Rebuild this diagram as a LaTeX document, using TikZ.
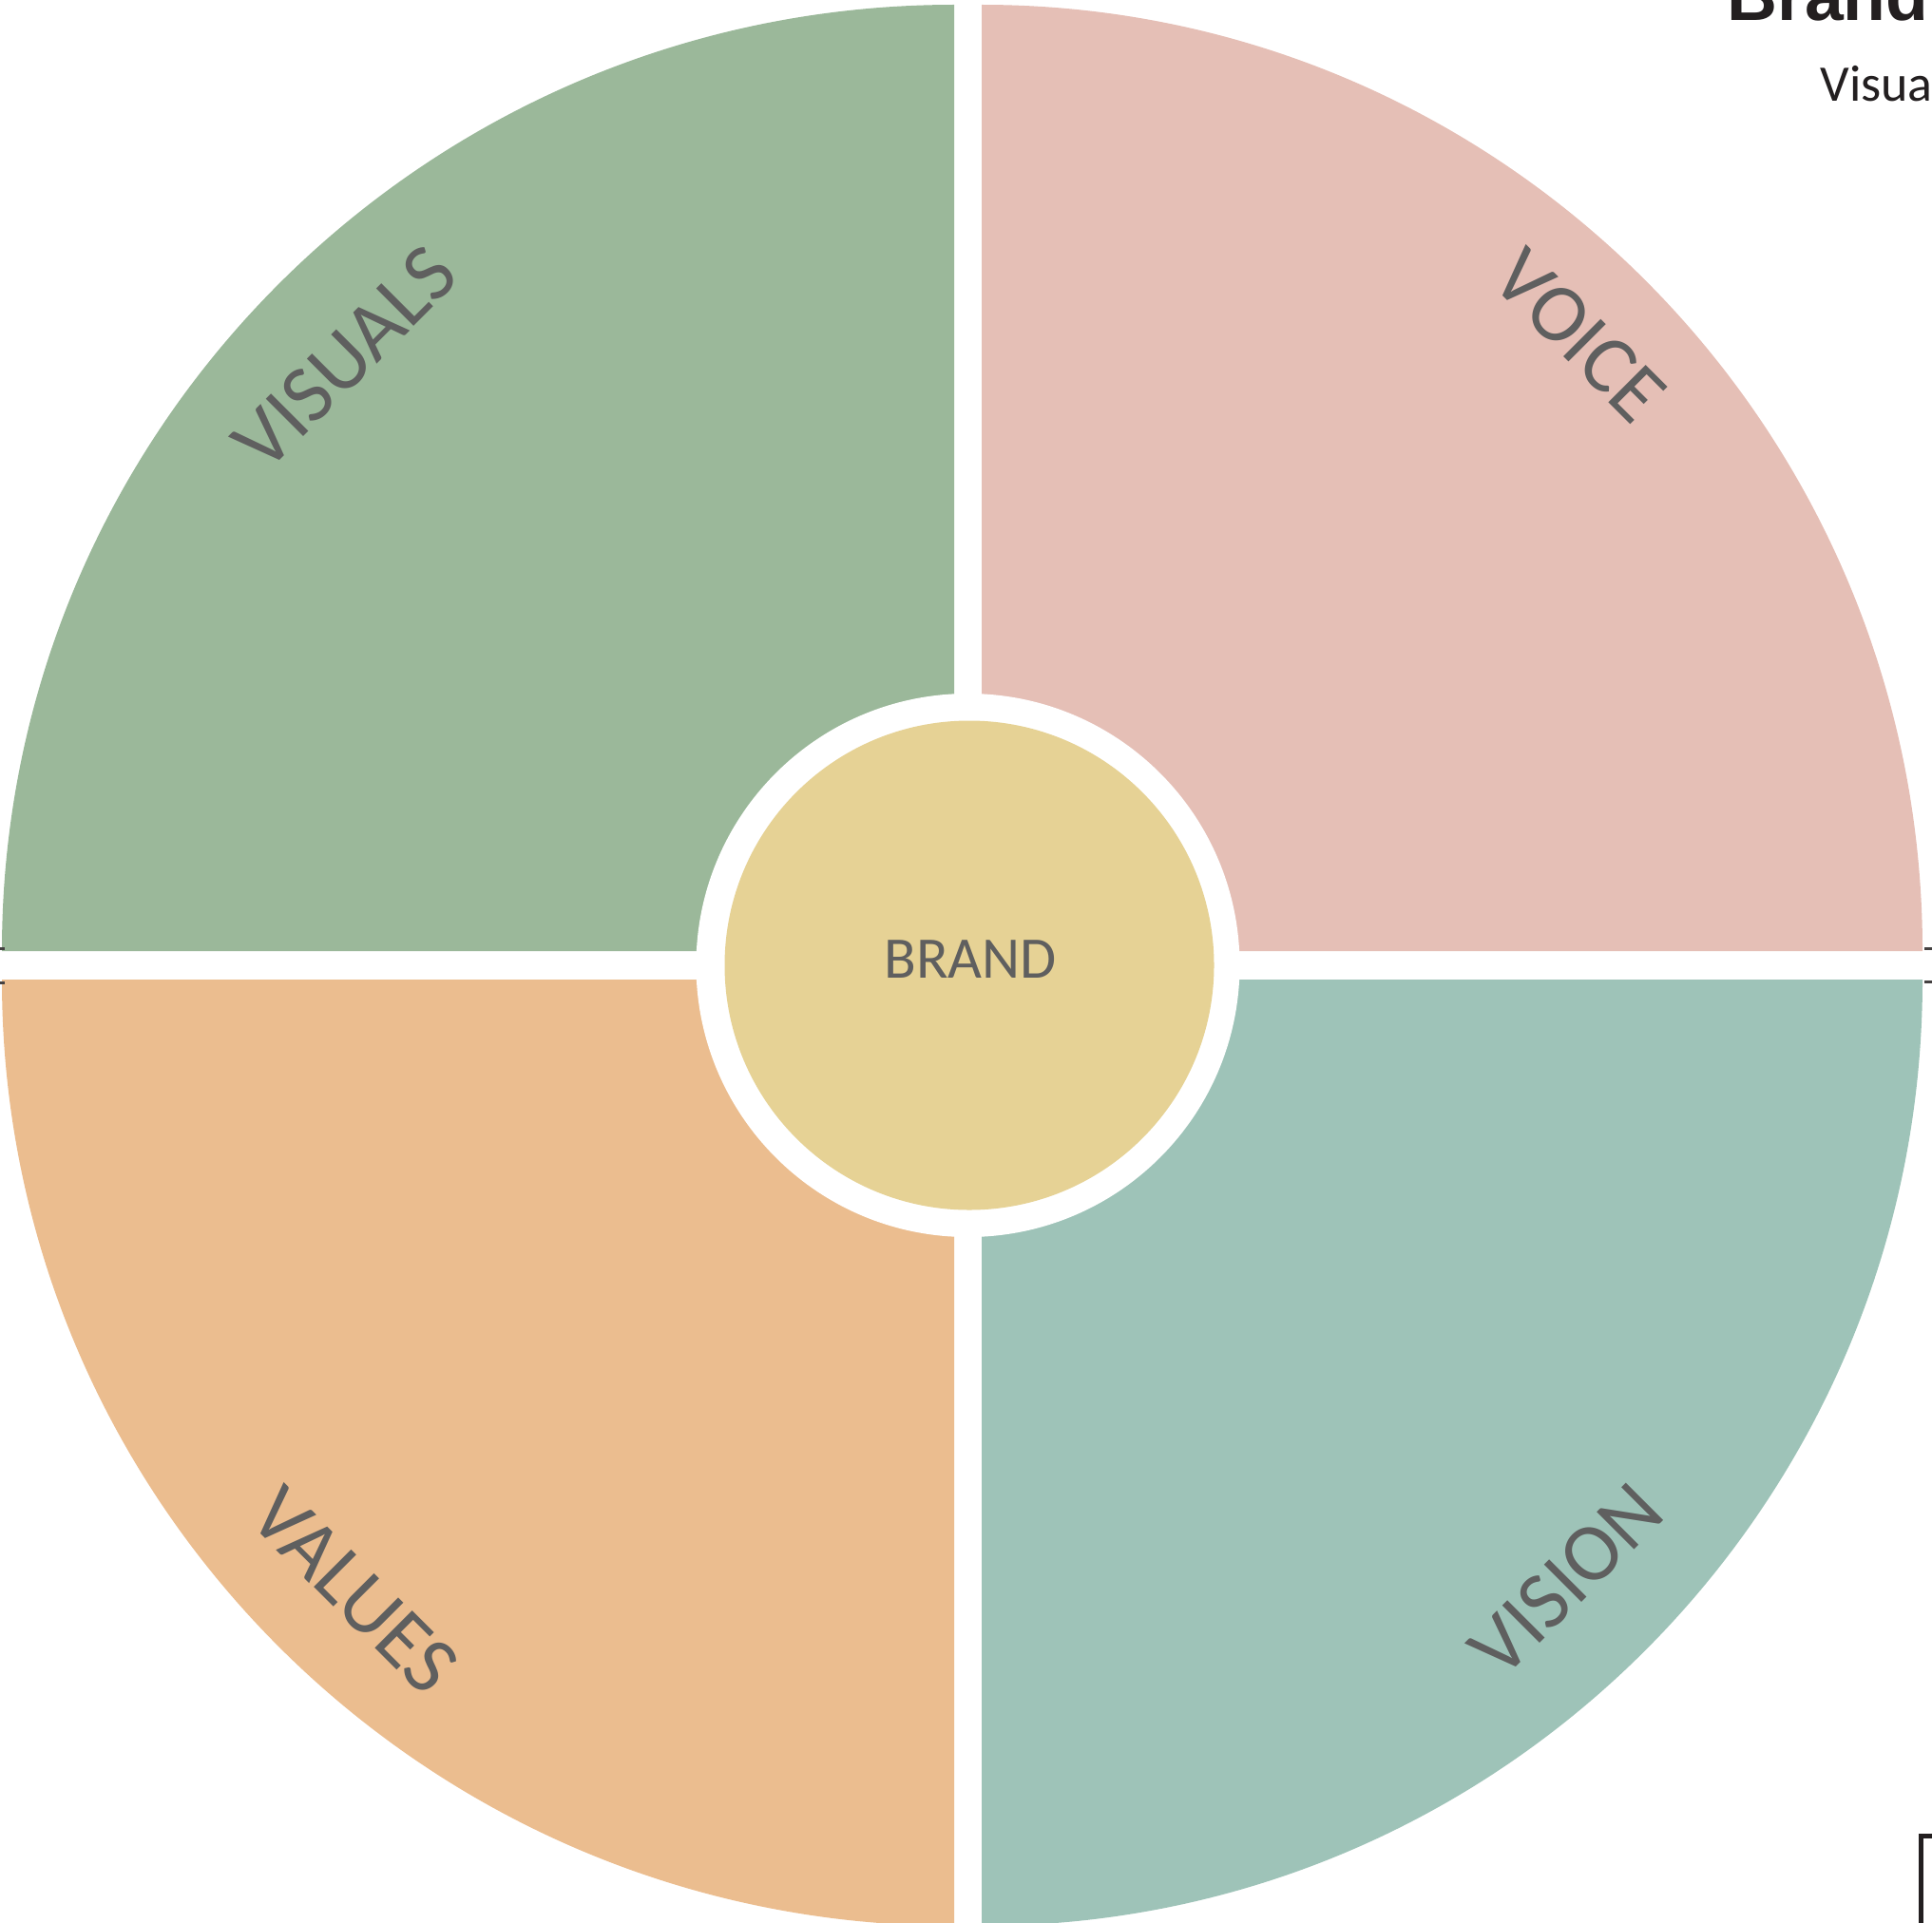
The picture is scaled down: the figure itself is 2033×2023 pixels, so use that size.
\documentclass[tikz,border=0pt]{standalone}
\usepackage{fontspec}
\setmainfont{Carlito}
\newfontfamily\headfont{Liberation Sans}
\definecolor{visualsgreen}{RGB}{155, 184, 154}
\definecolor{voicepink}{RGB}{229, 191, 182}
\definecolor{valuesorange}{RGB}{235, 189, 143}
\definecolor{visionteal}{RGB}{158, 195, 184}
\definecolor{brandyellow}{RGB}{230, 210, 149}
\definecolor{labelgray}{RGB}{95, 95, 95}
\definecolor{inkblack}{RGB}{35, 31, 32}
\tikzset{every picture/.style={line width=0.75pt}}
\tikzset{
  quarterlabel/.style={inner sep=0pt, text=labelgray, font=\fontsize{65}{78}\selectfont},
  edgetick/.style={draw=inkblack!85, line width=2.25pt},
}

\begin{document}
\begin{tikzpicture}[x=0.75pt,y=0.75pt,yscale=-1,xscale=1]
\useasboundingbox (0,0) rectangle (2033,2023);

%Shape: Quarter [id:visuals]
\fill [visualsgreen] (1004,1001) -- (2,1001) arc [start angle=180, end angle=270, x radius=1002, y radius=996] -- cycle ;
%Shape: Quarter [id:voice]
\fill [voicepink] (1033,1001) -- (1033,5) arc [start angle=270, end angle=360, x radius=990, y radius=996] -- cycle ;
%Shape: Quarter [id:values]
\fill [valuesorange] (1004,1031) -- (2,1031) arc [start angle=180, end angle=90, x radius=1002, y radius=996] -- cycle ;
%Shape: Quarter [id:vision]
\fill [visionteal] (1033,1031) -- (2023,1031) arc [start angle=0, end angle=90, x radius=990, y radius=996] -- cycle ;
%Shape: Circle [id:gap]
\fill [white] (1018.5,1016) circle [radius=286] ;
%Shape: Circle [id:core]
\fill [brandyellow] (1020,1016) circle [radius=257.5] ;

%Straight Lines [id:ticks]
\draw [edgetick] (0,998) -- (5,998) ;
\draw [edgetick] (0,1034) -- (5,1034) ;
\draw [edgetick] (2025,998) -- (2033,998) ;
\draw [edgetick] (2025,1033) -- (2033,1033) ;
%Straight Lines [id:bracket]
\draw [draw=inkblack, line width=3.75pt] (2035,1932) -- (2021,1932) -- (2021,2030) ;

% Text Node
\node (brand) at (1021,1010) [inner sep=0pt, text=labelgray, font=\fontsize{46.5}{56}\selectfont] {BRAND};
% Text Node
\node (visuals) at (363,377) [quarterlabel, rotate=45] {VISUALS};
% Text Node
\node (voice) at (1662,353) [quarterlabel, rotate=-45] {VOICE};
% Text Node
\node (values) at (373,1674) [quarterlabel, rotate=-45] {VALUES};
% Text Node
\node (vision) at (1648,1663) [quarterlabel, rotate=45] {VISION};
% Text Node
\node (title) at (1817,22) [anchor=base west, inner sep=0pt, text=inkblack, font=\headfont\bfseries\fontsize{55}{66}\selectfont] {Brand};
% Text Node
\node (subtitle) at (1915,107) [anchor=base west, inner sep=0pt, text=inkblack, font=\fontsize{40.5}{48}\selectfont] {Visual};

\end{tikzpicture}
\end{document}
